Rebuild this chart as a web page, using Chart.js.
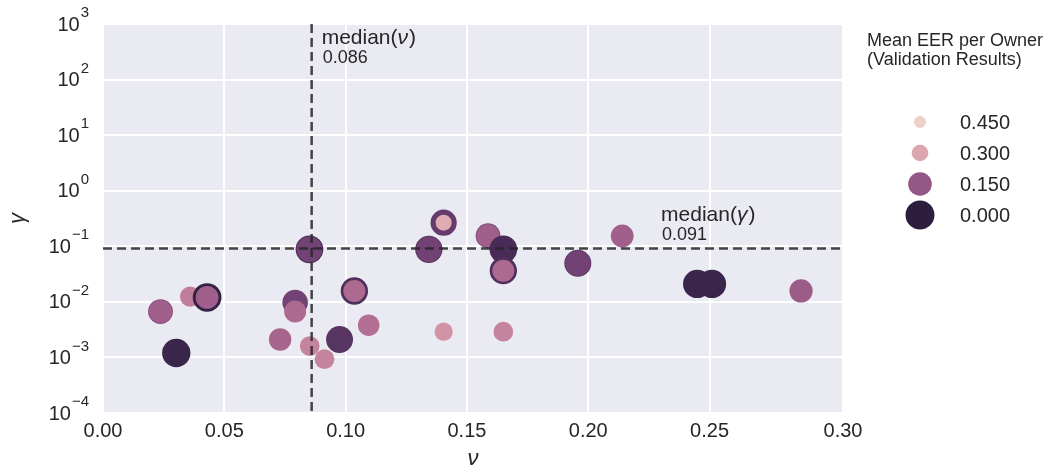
<!DOCTYPE html>
<html lang="en">
<head>
    <meta charset="UTF-8">
    <title>OCSVM hyperparameters per owner</title>
    <script src="https://cdn.jsdelivr.net/npm/chart.js"></script>
    <style>
        body { margin: 0; background: #ffffff; }
        canvas { display: block; }
    </style>
</head>
<body>
    <canvas id="paramChart" width="1052" height="472"></canvas>

    <script>
        // nu, gamma and mean EER of each owner (overlapping owners drawn bottom first)
        const nuVals = [0.0237, 0.0237, 0.0302, 0.0359, 0.0429, 0.0429, 0.0792, 0.0792, 0.0730, 0.0852,
                        0.0913, 0.0975, 0.1095, 0.0851, 0.0851, 0.1036, 0.1036, 0.1343, 0.1343, 0.1404,
                        0.1404, 0.1587, 0.1587, 0.1404, 0.1650, 0.1650, 0.1650, 0.1650, 0.1957, 0.1957,
                        0.2140, 0.2449, 0.2510, 0.2877];
        const gammaVals = [0.0067, 0.0067, 0.0012, 0.0124, 0.0120, 0.0120, 0.0097, 0.0067, 0.0021, 0.0016,
                           0.00093, 0.0021, 0.0038, 0.088, 0.088, 0.0157, 0.0157, 0.088, 0.088, 0.266,
                           0.266, 0.155, 0.155, 0.0029, 0.0029, 0.088, 0.0364, 0.0364, 0.0494, 0.0494,
                           0.153, 0.021, 0.021, 0.0157];
        const eerVals = [0.12, 0.17, 0.02, 0.23, 0.01, 0.17, 0.10, 0.19, 0.18, 0.24,
                         0.24, 0.06, 0.20, 0.04, 0.10, 0.05, 0.19, 0.05, 0.10, 0.08,
                         0.31, 0.12, 0.17, 0.27, 0.24, 0.04, 0.05, 0.19, 0.06, 0.10,
                         0.17, 0.02, 0.02, 0.16];

        const medianNu = 0.086;
        const medianGamma = 0.091;
        const legendTicks = [0.45, 0.30, 0.15, 0.00];
        const yExponents = [-4, -3, -2, -1, 0, 1, 2, 3];

        const FONT = "'Liberation Sans', Arial, sans-serif";
        const TEXT = '#262626';

        // seaborn default cubehelix (start 0, rot .4, hue .8, light .85, dark .15)
        function cubehelix(x) {
            const phi = 2 * Math.PI * (0.4 * x);
            const a = 0.8 * x * (1 - x) / 2;
            const c = Math.cos(phi), s = Math.sin(phi);
            const r = x + a * (-0.14861 * c + 1.78277 * s);
            const g = x + a * (-0.29227 * c - 0.90649 * s);
            const b = x + a * (1.97294 * c);
            const to = v => Math.round(Math.max(0, Math.min(1, v)) * 255);
            return 'rgb(' + to(r) + ',' + to(g) + ',' + to(b) + ')';
        }
        function eerColor(e) {
            const t = Math.max(0, Math.min(1, e / 0.37));
            return cubehelix(0.15 + 0.7 * t);
        }
        function eerRadius(e) {
            return Math.sqrt(210 - 470 * Math.max(0, Math.min(0.37, e)));
        }

        const points = nuVals.map((nu, i) => ({ x: nu, y: gammaVals[i] }));

        // plot background
        const bgPlugin = {
            id: 'bg',
            beforeDraw(chart) {
                const { ctx, chartArea: a } = chart;
                ctx.save();
                ctx.fillStyle = '#EAEAF2';
                ctx.fillRect(a.left, a.top, a.right - a.left, a.bottom - a.top);
                ctx.restore();
            }
        };

        // y tick labels (10^k), axis titles, median lines, legend
        const extrasPlugin = {
            id: 'extras',
            afterDraw(chart) {
                const { ctx, chartArea: a } = chart;
                const xs = chart.scales.x, ys = chart.scales.y;
                ctx.save();

                // y tick labels
                ctx.fillStyle = TEXT;
                ctx.textBaseline = 'middle';
                yExponents.forEach(k => {
                    const py = ys.getPixelForValue(Math.pow(10, k));
                    const exp = k < 0 ? '\u2212' + (-k) : String(k);
                    ctx.font = '15px ' + FONT;
                    const ew = ctx.measureText(exp).width;
                    const right = 89;
                    ctx.textAlign = 'left';
                    ctx.fillText(exp, right - ew, py - 11);
                    ctx.font = '20px ' + FONT;
                    ctx.textAlign = 'right';
                    ctx.fillText('10', right - ew - 1, py + 1);
                });

                // axis titles
                ctx.font = 'italic 22px ' + FONT;
                ctx.textAlign = 'center';
                ctx.fillText('\u03bd', (a.left + a.right) / 2, 459);
                ctx.save();
                ctx.translate(18, (a.top + a.bottom) / 2);
                ctx.rotate(-Math.PI / 2);
                ctx.fillText('\u03b3', 0, 0);
                ctx.restore();

                // median lines
                const mx = xs.getPixelForValue(medianNu);
                const my = ys.getPixelForValue(medianGamma);
                ctx.strokeStyle = 'rgba(38,38,38,0.85)';
                ctx.lineWidth = 2.5;
                ctx.setLineDash([9, 5]);
                ctx.beginPath();
                ctx.moveTo(mx, a.top);
                ctx.lineTo(mx, a.bottom);
                ctx.moveTo(a.left, my);
                ctx.lineTo(a.right, my);
                ctx.stroke();
                ctx.setLineDash([]);

                function medianLabel(sym, value, x, y) {
                    ctx.textAlign = 'left';
                    ctx.textBaseline = 'alphabetic';
                    ctx.fillStyle = TEXT;
                    ctx.font = '21px ' + FONT;
                    ctx.fillText('median(', x, y);
                    let w = ctx.measureText('median(').width;
                    ctx.font = 'italic 21px ' + FONT;
                    ctx.fillText(sym, x + w, y);
                    w += ctx.measureText(sym).width + 1;
                    ctx.font = '21px ' + FONT;
                    ctx.fillText(')', x + w, y);
                    ctx.font = '18px ' + FONT;
                    ctx.fillText(value.toFixed(3), x + 1, y + 19);
                }
                medianLabel('\u03bd', medianNu, mx + 10, 44);
                medianLabel('\u03b3', medianGamma, xs.getPixelForValue(0.230), 221);

                // legend
                ctx.fillStyle = TEXT;
                ctx.font = '18px ' + FONT;
                ctx.textAlign = 'left';
                ctx.textBaseline = 'middle';
                ctx.fillText('Mean EER per Owner', 867, 41);
                ctx.fillText('(Validation Results)', 867, 60);
                legendTicks.forEach((v, i) => {
                    const cy = 122 + i * 31;
                    ctx.beginPath();
                    ctx.fillStyle = eerColor(v);
                    ctx.arc(920, cy, eerRadius(v), 0, Math.PI * 2);
                    ctx.fill();
                    ctx.fillStyle = TEXT;
                    ctx.font = '20px ' + FONT;
                    ctx.fillText(v.toFixed(3), 960, cy + 1);
                });
                ctx.restore();
            }
        };

        const ctx = document.getElementById('paramChart').getContext('2d');
        const paramChart = new Chart(ctx, {
            type: 'scatter',
            data: {
                datasets: [{
                    label: 'owners',
                    data: points,
                    pointRadius: c => eerRadius(eerVals[c.dataIndex]),
                    pointHoverRadius: c => eerRadius(eerVals[c.dataIndex]),
                    pointBackgroundColor: c => eerColor(eerVals[c.dataIndex]),
                    pointBorderWidth: 0,
                    pointHoverBorderWidth: 0
                }]
            },
            options: {
                responsive: false,
                devicePixelRatio: 1,
                animation: false,
                events: [],
                layout: { padding: { left: 0, top: 24, right: 209, bottom: 0 } },
                plugins: {
                    legend: { display: false },
                    tooltip: { enabled: false }
                },
                scales: {
                    x: {
                        type: 'linear',
                        min: 0,
                        max: 0.305,
                        afterFit: s => { s.height = 59; },
                        border: { display: false },
                        grid: { color: '#ffffff', lineWidth: 2, drawTicks: false },
                        ticks: {
                            stepSize: 0.05,
                            padding: 6,
                            color: TEXT,
                            font: { family: FONT, size: 20 },
                            callback: v => v.toFixed(2)
                        }
                    },
                    y: {
                        type: 'logarithmic',
                        min: 1e-4,
                        max: 1e3,
                        afterBuildTicks: s => { s.ticks = yExponents.map(k => ({ value: Math.pow(10, k) })); },
                        afterFit: s => { s.width = 103; },
                        border: { display: false },
                        grid: { color: '#ffffff', lineWidth: 2, drawTicks: false },
                        ticks: { display: false }
                    }
                }
            },
            plugins: [bgPlugin, extrasPlugin]
        });
    </script>
</body>
</html>
